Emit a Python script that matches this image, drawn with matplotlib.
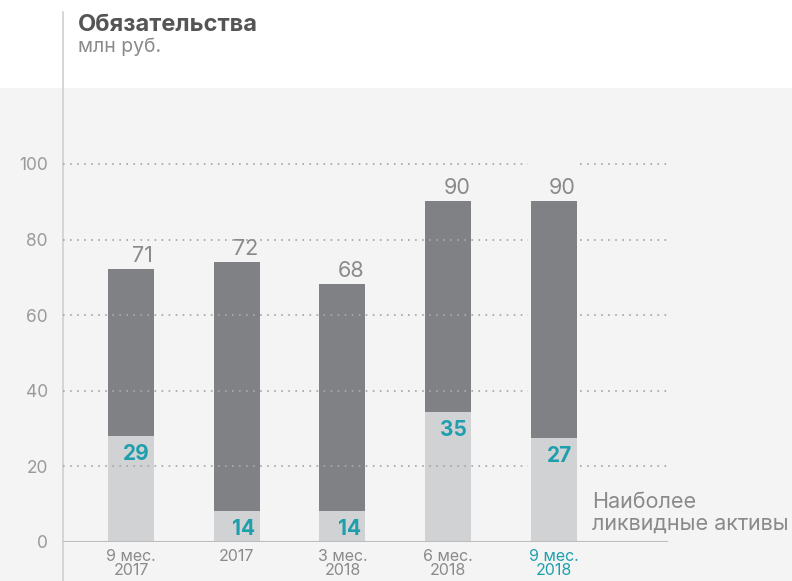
import numpy as np
import matplotlib.pyplot as plt
from matplotlib.patches import Rectangle
from matplotlib.lines import Line2D

plt.rcParams['font.family'] = ['Inter', 'DejaVu Sans']

# data
periods = ["9 мес.\n2017", "2017", "3 мес.\n2018", "6 мес.\n2018", "9 мес.\n2018"]
total_heights = [72.2, 74.1, 68.3, 90.2, 90.2]
liquid_heights = [28.0, 8.2, 8.2, 34.4, 27.5]
total_labels = ["71", "72", "68", "90", "90"]
liquid_labels = ["29", "14", "14", "35", "27"]
yticks = [0, 20, 40, 60, 80, 100]

dark = "#808184"
light = "#d1d2d4"
teal = "#1f9fae"
grey_txt = "#8a8a8a"

W, H = 792, 581
fig = plt.figure(figsize=(W / 100, H / 100), dpi=100)
fig.patch.set_facecolor("white")
fig.patches.append(Rectangle((0, 0), 1, (H - 88) / H, transform=fig.transFigure,
                             facecolor="#f4f4f4", edgecolor="none", zorder=-2))
fig.lines.append(Line2D([63 / W, 63 / W], [0, 1 - 12 / H], transform=fig.transFigure,
                        color="#cfcfcf", lw=1.2, zorder=-1))

ax = fig.add_axes([63 / W, (H - 542) / H, (668 - 63) / W, (542 - 88) / H])
ax.set_facecolor("none")
ax.set_zorder(1)
x = np.arange(len(periods))
bw = 46 / 105.75
ax.set_xlim(-0.643, 5.078)
ax.set_ylim(0, 120.1)

ax.bar(x, total_heights, width=bw, color=dark, zorder=2)
ax.bar(x, liquid_heights, width=bw, color=light, zorder=3)

# dotted grid, on top of bars but broken around the last bar
gap = bw / 2 + 0.03
for yv in yticks[1:]:
    for x0, x1 in [(-0.643, x[-1] - gap), (x[-1] + gap, 5.078)]:
        ax.hlines(yv, x0, x1, colors="#a8a8a8", lw=1.3,
                  linestyles=(0, (0.9, 3.0)), zorder=4)
ax.axhline(0, color="#bdbdbd", lw=1.5, zorder=5)

for xi, th, tl, lh, ll in zip(x, total_heights, total_labels, liquid_heights, liquid_labels):
    ax.text(xi + bw / 2 - 0.01, th + 0.8, tl, ha="right", va="bottom",
            fontsize=15.5, color=grey_txt, zorder=6)
    ax.text(xi + bw / 2 - 0.045, lh - 2.2, ll, ha="right", va="top",
            fontsize=15, fontweight="bold", color=teal, zorder=6)

ax.set_yticks(yticks)
ax.set_yticklabels([str(v) for v in yticks], fontsize=12.5, color="#9a9a9a")
ax.set_xticks(x)
ax.set_xticklabels(periods, fontsize=11.5, color=grey_txt, linespacing=0.92)
ax.get_xticklabels()[-1].set_color(teal)
ax.tick_params(axis="both", length=0)
ax.tick_params(axis="y", pad=11)
ax.tick_params(axis="x", pad=5)
for s in ax.spines.values():
    s.set_visible(False)

fig.text(78 / W, 1 - 31 / H, "Обязательства", fontsize=17, fontweight="bold",
         color="#555555", va="baseline")
fig.text(78 / W, 1 - 52 / H, "млн руб.", fontsize=14, color="#8a8a8a", va="baseline")
fig.text(592 / W, 1 - 530 / H, "Наиболее\nликвидные активы", fontsize=15.5,
         color=grey_txt, va="baseline", linespacing=1.15)

fig.savefig("out.png", dpi=100)
